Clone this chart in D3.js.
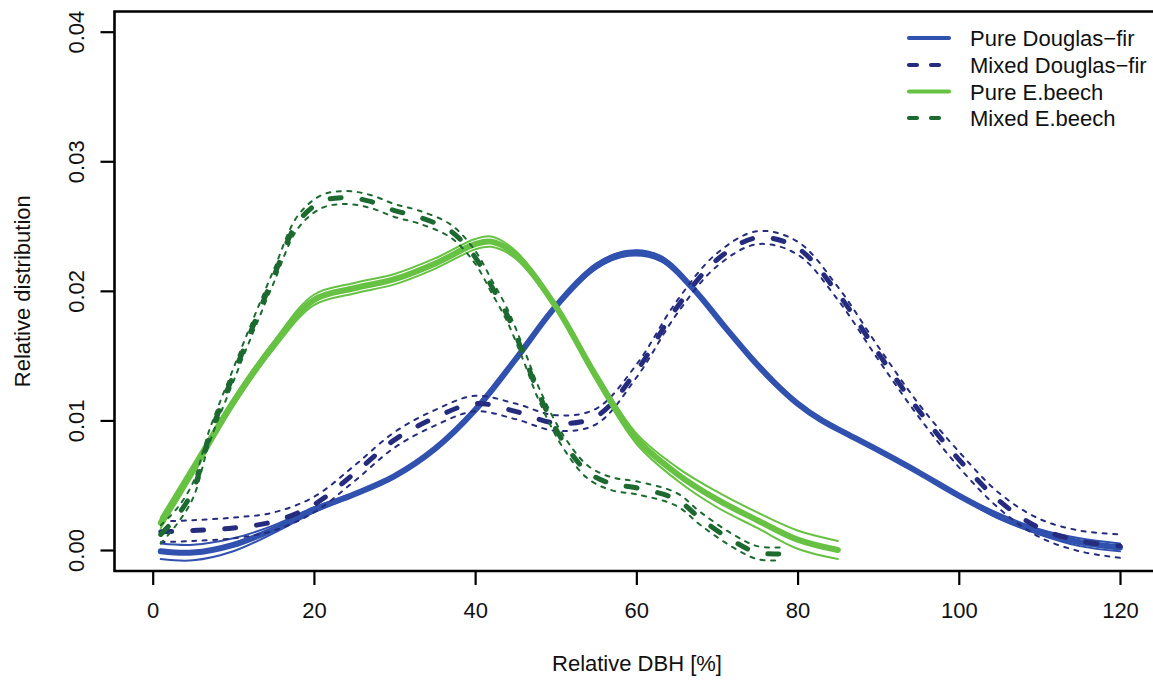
<!DOCTYPE html>
<html>
<head>
<meta charset="utf-8">
<script src="https://cdn.jsdelivr.net/npm/d3@7"></script>
<style>
  html, body { margin: 0; padding: 0; background: #fff; }
  svg { display: block; font-family: "Liberation Sans", Arial, sans-serif; }
</style>
</head>
<body>
<svg id="chart" width="1153" height="680"></svg>
<script>
// ---------- data ----------
const xTicks = [0, 20, 40, 60, 80, 100, 120];
const yTicks = [0.00, 0.01, 0.02, 0.03, 0.04];
const yTickLabels = ["0.00", "0.01", "0.02", "0.03", "0.04"];
const seriesNames = ["Pure Douglas\u2212fir", "Mixed Douglas\u2212fir", "Pure E.beech", "Mixed E.beech"];

// Pure Douglas-fir
const pureDF_x  = [1, 5, 10, 15, 20, 25, 30, 35, 40, 45, 50, 55, 59, 63, 67, 71, 74, 77, 80, 83, 86, 90, 95, 100, 105, 110, 115, 120];
const pureDF_y  = [-0.0001, -0.0002, 0.0004, 0.0016, 0.0031, 0.0043, 0.0057, 0.0078, 0.0108, 0.0147, 0.0188, 0.0219, 0.0229, 0.0225, 0.0202, 0.0172, 0.0150, 0.0130, 0.0113, 0.0100, 0.0090, 0.0077, 0.0060, 0.0042, 0.0026, 0.0014, 0.0006, 0.0002];
const pureDF_ci = [0.0006, 0.0006, 0.0005, 0.0003, 0.0002, 0.0001, 0.0001, 0.0001, 0.0001, 0.0001, 0.0001, 0.0002, 0.0002, 0.0002, 0.0001, 0.0001, 0.0001, 0.0001, 0.0001, 0.0001, 0.0001, 0.0001, 0.0001, 0.0001, 0.0002, 0.0002, 0.0003, 0.0003];

// Mixed Douglas-fir
const mixDF_x  = [1, 5, 10, 15, 20, 25, 30, 35, 40, 45, 50, 55, 60, 65, 70, 75, 80, 85, 90, 95, 100, 105, 110, 115, 120];
const mixDF_y  = [0.0014, 0.0015, 0.0017, 0.0022, 0.0035, 0.0059, 0.0085, 0.0102, 0.0113, 0.0107, 0.0098, 0.0103, 0.0138, 0.0187, 0.0224, 0.0241, 0.0233, 0.0198, 0.0152, 0.0108, 0.0070, 0.0038, 0.0017, 0.0007, 0.0003];
const mixDF_ci = [0.0008, 0.0008, 0.0008, 0.0007, 0.0006, 0.0006, 0.0006, 0.0006, 0.0006, 0.0006, 0.0006, 0.0006, 0.0005, 0.0005, 0.0005, 0.0005, 0.0005, 0.0005, 0.0005, 0.0005, 0.0006, 0.0006, 0.0007, 0.0008, 0.0009];

// Pure E.beech
const pureEB_x  = [1, 5, 10, 15, 20, 25, 30, 35, 40, 42, 45, 50, 55, 60, 65, 70, 75, 80, 85];
const pureEB_y  = [0.0021, 0.0062, 0.0114, 0.0158, 0.0193, 0.0202, 0.0209, 0.0221, 0.0236, 0.0238, 0.0228, 0.0188, 0.0134, 0.0086, 0.0059, 0.0039, 0.0023, 0.0008, 0.0000];
const pureEB_ci = [0.0004, 0.0004, 0.0003, 0.0003, 0.0004, 0.0004, 0.0004, 0.0004, 0.0004, 0.0004, 0.0003, 0.0002, 0.0003, 0.0004, 0.0005, 0.0006, 0.0006, 0.0007, 0.0007];

// Mixed E.beech
const mixEB_x  = [1, 3, 5, 7, 10, 12, 15, 18, 21, 24, 27, 30, 33, 37, 40, 42, 44, 46, 48, 51, 54, 57, 60, 65, 68, 72, 75, 78];
const mixEB_y  = [0.0012, 0.0026, 0.0046, 0.0087, 0.0135, 0.0166, 0.0211, 0.0253, 0.0269, 0.0272, 0.0269, 0.0262, 0.0257, 0.0246, 0.0226, 0.0204, 0.0181, 0.0151, 0.0119, 0.0083, 0.0060, 0.0051, 0.0048, 0.0039, 0.0024, 0.0007, -0.0002, -0.0003];
const mixEB_ci = [0.0007, 0.0006, 0.0006, 0.0005, 0.0005, 0.0005, 0.0005, 0.0005, 0.0005, 0.0005, 0.0005, 0.0005, 0.0005, 0.0005, 0.0005, 0.0005, 0.0005, 0.0005, 0.0005, 0.0005, 0.0005, 0.0005, 0.0005, 0.0005, 0.0005, 0.0005, 0.0005, 0.0005];

const colors = ["#3151ae", "#252c7e", "#67c244", "#1c6a30"];

// ---------- layout ----------
const svg = d3.select("#chart");
const box = { left: 114.5, top: 11.5, bottom: 571, right: 1170 };

const x = d3.scaleLinear().domain([0, 120]).range([152.7, 1120]);
const y = d3.scaleLinear().domain([0, 0.04]).range([550, 31.7]);

const fontSize = 22;

// ---------- curves ----------
const line = d3.line()
  .x(d => x(d[0]))
  .y(d => y(d[1]))
  .curve(d3.curveCatmullRom.alpha(0.5));

function drawSeries(xs, ys, ci, color, dashed) {
  const g = svg.append("g");
  const mean = xs.map((v, i) => [v, ys[i]]);
  const upper = xs.map((v, i) => [v, ys[i] + ci[i]]);
  const lower = xs.map((v, i) => [v, ys[i] - ci[i]]);
  [upper, lower].forEach(pts => {
    g.append("path")
      .attr("d", line(pts))
      .attr("fill", "none")
      .attr("stroke", color)
      .attr("stroke-width", 2)
      .attr("stroke-linecap", "round")
      .attr("stroke-dasharray", dashed ? "4,6.5" : null);
  });
  g.append("path")
    .attr("d", line(mean))
    .attr("fill", "none")
    .attr("stroke", color)
    .attr("stroke-width", dashed ? 5 : 6)
    .attr("stroke-linecap", "round")
    .attr("stroke-dasharray", dashed ? "11,21" : null);
}

drawSeries(pureDF_x, pureDF_y, pureDF_ci, colors[0], false);
drawSeries(mixDF_x, mixDF_y, mixDF_ci, colors[1], true);
drawSeries(pureEB_x, pureEB_y, pureEB_ci, colors[2], false);
drawSeries(mixEB_x, mixEB_y, mixEB_ci, colors[3], true);

// ---------- box ----------
svg.append("path")
  .attr("d", `M${box.right},${box.top} H${box.left} V${box.bottom} H${box.right}`)
  .attr("fill", "none")
  .attr("stroke", "#000")
  .attr("stroke-width", 2.6);

// ---------- x axis ----------
const xAxis = d3.axisBottom(x).tickValues(xTicks).tickSize(14).tickFormat(d3.format("d"));
const gx = svg.append("g").attr("transform", `translate(0,${box.bottom})`).call(xAxis);
gx.select(".domain").remove();
gx.selectAll(".tick line").attr("stroke", "#000").attr("stroke-width", 2.2);
gx.selectAll(".tick text")
  .attr("font-family", "Liberation Sans, Arial, sans-serif")
  .attr("font-size", fontSize)
  .attr("fill", "#111")
  .attr("dy", null)
  .attr("y", 47);

// ---------- y axis ----------
const yAxis = d3.axisLeft(y).tickValues(yTicks).tickSize(14).tickFormat((d, i) => yTickLabels[i]);
const gy = svg.append("g").attr("transform", `translate(${box.left},0)`).call(yAxis);
gy.select(".domain").remove();
gy.selectAll(".tick line").attr("stroke", "#000").attr("stroke-width", 2.2);
gy.selectAll(".tick text")
  .attr("font-family", "Liberation Sans, Arial, sans-serif")
  .attr("font-size", fontSize)
  .attr("fill", "#111")
  .attr("x", null).attr("dy", null)
  .attr("text-anchor", "middle")
  .attr("transform", "translate(-31,0) rotate(-90)");

// ---------- axis titles ----------
svg.append("text")
  .attr("x", 637).attr("y", 671)
  .attr("text-anchor", "middle")
  .attr("font-size", fontSize)
  .attr("fill", "#111")
  .text("Relative DBH [%]");

svg.append("text")
  .attr("transform", `translate(30,${(box.top + box.bottom) / 2}) rotate(-90)`)
  .attr("text-anchor", "middle")
  .attr("font-size", fontSize)
  .attr("fill", "#111")
  .text("Relative distribution");

// ---------- legend ----------
const legendY = [38, 65, 91.5, 118];
const legend = svg.append("g");
seriesNames.forEach((name, i) => {
  const dashed = i % 2 === 1;
  legend.append("line")
    .attr("x1", 909).attr("x2", dashed ? 941 : 949)
    .attr("y1", legendY[i]).attr("y2", legendY[i])
    .attr("stroke", colors[i])
    .attr("stroke-width", 4.2)
    .attr("stroke-linecap", "round")
    .attr("stroke-dasharray", dashed ? "8,14" : null);
  legend.append("text")
    .attr("x", 970).attr("y", legendY[i] + 8)
    .attr("font-size", fontSize)
    .attr("fill", "#111")
    .text(name);
});
</script>
</body>
</html>
